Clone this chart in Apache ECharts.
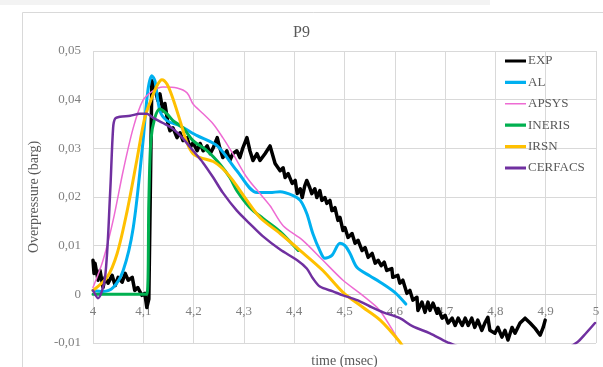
<!DOCTYPE html>
<html><head><meta charset="utf-8">
<script src="https://cdn.jsdelivr.net/npm/echarts@6/dist/echarts.min.js"></script>
<style>html,body{margin:0;padding:0;background:#fff}#c{width:603px;height:367px}</style>
</head><body><div id="c"></div>
<script>
const TITLE = 'P9';
const X_NAME = 'time (msec)';
const Y_NAME = 'Overpressure (barg)';
const SERIES_NAMES = ['EXP','AL','APSYS','INERIS','IRSN','CERFACS'];
const X_MIN = 4, X_MAX = 5, X_STEP = 0.1;
const Y_MIN = -0.01, Y_MAX = 0.05, Y_STEP = 0.01;

const EXP = [[4.000,0.0070],[4.002,0.0043],[4.004,0.0064],[4.010,0.0029],[4.014,0.0049],[4.020,0.0014],[4.024,0.0035],[4.030,0.0023],[4.038,0.0039],[4.044,0.0018],[4.050,0.0035],[4.058,0.0025],[4.064,0.0043],[4.070,0.0029],[4.078,0.0035],[4.083,0.0008],[4.089,0.0014],[4.097,-0.0002],[4.103,0.0002],[4.107,-0.0027],[4.111,-0.0010],[4.117,0.0439],[4.123,0.0424],[4.129,0.0398],[4.133,0.0412],[4.139,0.0377],[4.143,0.0392],[4.149,0.0351],[4.153,0.0336],[4.159,0.0342],[4.167,0.0322],[4.173,0.0332],[4.179,0.0316],[4.187,0.0322],[4.193,0.0301],[4.199,0.0312],[4.207,0.0295],[4.213,0.0310],[4.219,0.0295],[4.227,0.0305],[4.233,0.0289],[4.239,0.0301],[4.247,0.0322],[4.252,0.0301],[4.258,0.0281],[4.266,0.0295],[4.272,0.0275],[4.278,0.0289],[4.286,0.0295],[4.292,0.0281],[4.298,0.0301],[4.306,0.0322],[4.312,0.0295],[4.318,0.0275],[4.326,0.0289],[4.332,0.0275],[4.342,0.0289],[4.352,0.0305],[4.362,0.0269],[4.372,0.0254],[4.378,0.0260],[4.382,0.0240],[4.388,0.0248],[4.396,0.0228],[4.402,0.0234],[4.406,0.0207],[4.412,0.0217],[4.416,0.0199],[4.421,0.0223],[4.425,0.0234],[4.431,0.0219],[4.435,0.0207],[4.441,0.0217],[4.445,0.0199],[4.451,0.0213],[4.455,0.0193],[4.461,0.0199],[4.465,0.0187],[4.471,0.0193],[4.475,0.0172],[4.481,0.0178],[4.487,0.0152],[4.491,0.0158],[4.497,0.0131],[4.501,0.0137],[4.507,0.0117],[4.515,0.0125],[4.521,0.0105],[4.527,0.0111],[4.535,0.0090],[4.541,0.0096],[4.547,0.0076],[4.555,0.0084],[4.561,0.0064],[4.567,0.0070],[4.573,0.0059],[4.579,0.0066],[4.584,0.0049],[4.594,0.0053],[4.596,0.0035],[4.606,0.0039],[4.610,0.0023],[4.616,0.0029],[4.624,0.0002],[4.630,0.0008],[4.636,-0.0012],[4.644,-0.0006],[4.646,-0.0033],[4.654,-0.0016],[4.660,-0.0037],[4.666,-0.0016],[4.670,-0.0033],[4.676,-0.0018],[4.684,-0.0039],[4.686,-0.0029],[4.694,-0.0049],[4.700,-0.0043],[4.706,-0.0059],[4.714,-0.0049],[4.720,-0.0064],[4.726,-0.0049],[4.734,-0.0064],[4.740,-0.0049],[4.746,-0.0064],[4.753,-0.0049],[4.759,-0.0068],[4.765,-0.0053],[4.773,-0.0074],[4.779,-0.0059],[4.785,-0.0047],[4.789,-0.0074],[4.799,-0.0080],[4.805,-0.0068],[4.813,-0.0088],[4.819,-0.0074],[4.825,-0.0094],[4.833,-0.0068],[4.839,-0.0080],[4.849,-0.0059],[4.859,-0.0049],[4.869,-0.0059],[4.879,-0.0070],[4.889,-0.0084],[4.895,-0.0068],[4.899,-0.0053]];

const AL = [[4.000,0.0008],[4.020,0.0006],[4.040,0.0014],[4.060,0.0049],[4.080,0.0137],[4.099,0.0310],[4.109,0.0418],[4.117,0.0449],[4.123,0.0439],[4.133,0.0377],[4.147,0.0357],[4.173,0.0346],[4.207,0.0326],[4.247,0.0305],[4.286,0.0254],[4.326,0.0209],[4.352,0.0209],[4.372,0.0211],[4.398,0.0203],[4.412,0.0193],[4.425,0.0166],[4.437,0.0125],[4.451,0.0090],[4.461,0.0074],[4.475,0.0080],[4.491,0.0105],[4.501,0.0100],[4.511,0.0084],[4.525,0.0055],[4.550,0.0038],[4.571,0.0025],[4.600,0.0004],[4.622,-0.0020]];

const APSYS = [[4.000,0.0014],[4.020,0.0070],[4.040,0.0152],[4.060,0.0254],[4.080,0.0342],[4.099,0.0398],[4.119,0.0418],[4.139,0.0426],[4.167,0.0424],[4.187,0.0414],[4.199,0.0391],[4.219,0.0371],[4.239,0.0350],[4.258,0.0322],[4.278,0.0289],[4.306,0.0240],[4.332,0.0207],[4.352,0.0182],[4.378,0.0141],[4.417,0.0111],[4.457,0.0070],[4.497,0.0029],[4.531,0.0002],[4.565,-0.0027],[4.577,-0.0043],[4.610,-0.0098],[4.620,-0.0115]];

const INERIS = [[4.000,0.0000],[4.050,0.0000],[4.107,0.0000],[4.111,0.0190],[4.115,0.0316],[4.123,0.0363],[4.133,0.0381],[4.147,0.0371],[4.159,0.0357],[4.179,0.0342],[4.199,0.0316],[4.227,0.0295],[4.252,0.0268],[4.272,0.0240],[4.286,0.0213],[4.312,0.0178],[4.338,0.0156],[4.372,0.0129],[4.408,0.0090]];

const IRSN = [[4.000,0.0008],[4.028,0.0035],[4.048,0.0084],[4.068,0.0172],[4.087,0.0275],[4.103,0.0363],[4.117,0.0404],[4.129,0.0432],[4.137,0.0441],[4.147,0.0432],[4.159,0.0402],[4.173,0.0357],[4.187,0.0311],[4.199,0.0289],[4.213,0.0281],[4.239,0.0273],[4.258,0.0258],[4.278,0.0234],[4.306,0.0193],[4.332,0.0158],[4.372,0.0125],[4.412,0.0090],[4.457,0.0049],[4.497,0.0004],[4.537,-0.0027],[4.571,-0.0053],[4.610,-0.0098],[4.620,-0.0115]];

const CERFACS = [[4.000,0.0008],[4.010,-0.0008],[4.024,0.0035],[4.034,0.0207],[4.040,0.0342],[4.044,0.0361],[4.054,0.0365],[4.074,0.0367],[4.093,0.0371],[4.107,0.0371],[4.119,0.0363],[4.139,0.0352],[4.159,0.0340],[4.179,0.0320],[4.199,0.0295],[4.219,0.0270],[4.239,0.0240],[4.258,0.0209],[4.286,0.0172],[4.312,0.0145],[4.338,0.0119],[4.372,0.0092],[4.406,0.0070],[4.425,0.0053],[4.437,0.0033],[4.451,0.0016],[4.477,0.0006],[4.497,-0.0002],[4.525,-0.0012],[4.551,-0.0025],[4.577,-0.0037],[4.610,-0.0049],[4.636,-0.0066],[4.670,-0.0080],[4.704,-0.0098],[4.750,-0.0115],[4.850,-0.0125],[4.930,-0.0117],[4.962,-0.0099],[4.980,-0.0080],[4.998,-0.0059]];

const COLORS = ['#000000','#00B0F0','#EE6BD3','#00B050','#FFC000','#7030A0'];
const WIDTHS = [3.5,3,1.5,3,3,2.5];
const DATA = [EXP, AL, APSYS, INERIS, IRSN, CERFACS];

const FONT = '"Liberation Serif","DejaVu Serif",serif';
const GRID = {left: 93, right: 7, top: 51, bottom: 24};
const H = 367;
// shift the category axis from the grid bottom up to the value 0 line
const plotH = H - GRID.top - GRID.bottom;
const zeroOffset = -plotH * (0 - Y_MIN) / (Y_MAX - Y_MIN);

const chart = echarts.init(document.getElementById('c'), null, {renderer:'canvas'});
const fmt = (v, d) => {
  const r = Math.round(v * 1000) / 1000;
  if (r === 0) return '0';
  return r.toFixed(d).replace('.', ',');
};
const bandIcon = (h) => {
  const y0 = 7 - h / 2, y1 = 7 + h / 2;
  return 'path://M0,0L0.01,0L0,0.01Z M20.99,14L21,14L21,13.99Z M0,' + y0 + 'L21,' + y0 + 'L21,' + y1 + 'L0,' + y1 + 'Z';
};
chart.setOption({
  animation: false,
  backgroundColor: '#ffffff',
  graphic: [
    {type:'rect', shape:{x:0,y:0,width:490,height:5}, style:{fill:'#f3f3f3'}, silent:true},
    {type:'rect', shape:{x:22.5,y:12.5,width:620,height:400}, style:{fill:'none', stroke:'#d9d9d9', lineWidth:1}, silent:true}
  ],
  title: {text: TITLE, left: 'center', top: 20, textStyle:{fontFamily: FONT, fontSize: 16, fontWeight:'normal', color:'#595959'}},
  legend: {
    orient:'vertical', left: 505, top: 54, padding: 0, itemWidth: 21, itemHeight: 14, itemGap: 7.4,
    textStyle:{fontFamily: FONT, fontSize: 13, color:'#595959', padding:[0,0,0,-3]},
    data: SERIES_NAMES.map((n, i) => ({name: n, icon: bandIcon(i === 2 ? 1.6 : 3.2),
      itemStyle:{color: COLORS[i], borderWidth:0}}))
  },
  grid: Object.assign({containLabel:false, outerBoundsMode:'none'}, GRID),
  xAxis: {
    type:'value', min:X_MIN, max:X_MAX, interval:X_STEP,
    offset: zeroOffset,
    name: X_NAME, nameLocation:'middle', nameGap: 60,
    nameTextStyle:{fontFamily: FONT, fontSize: 14, color:'#595959'},
    axisLine:{show:true, onZero:false, lineStyle:{color:'#d0d0d0', width:1}},
    axisTick:{show:false},
    axisLabel:{fontFamily: FONT, fontSize: 13, color:'#808080', margin: 11,
      formatter: v => String(Math.round(v*10)/10).replace('.', ',')},
    splitLine:{show:true, lineStyle:{color:'#d9d9d9', width:1}}
  },
  yAxis: {
    type:'value', min:Y_MIN, max:Y_MAX, interval:Y_STEP,
    name: Y_NAME, nameLocation:'middle', nameGap: 52,
    nameTextStyle:{fontFamily: FONT, fontSize: 14, color:'#595959'},
    axisLine:{show:false}, axisTick:{show:false},
    axisLabel:{fontFamily: FONT, fontSize: 13, color:'#808080', margin: 12,
      formatter: v => fmt(v, 2)},
    splitLine:{show:true, lineStyle:{color:'#d9d9d9', width:1}}
  },
  series: SERIES_NAMES.map((n, i) => ({
    name: n, type:'line', data: DATA[i], showSymbol:false, symbol:'none',
    smooth: i === 0 ? false : 0.3, clip:true,
    lineStyle:{color: COLORS[i], width: WIDTHS[i], join:'round', cap:'round'},
    itemStyle:{color: COLORS[i]}, z: 2 + i
  }))
});
</script></body></html>
